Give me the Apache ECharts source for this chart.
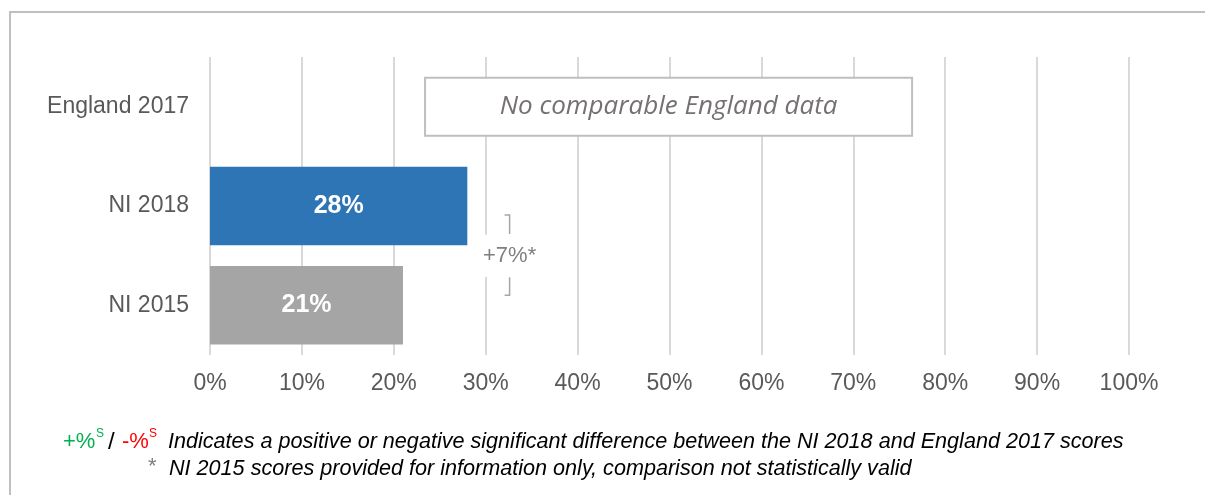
<!DOCTYPE html>
<html><head><meta charset="utf-8">
<script src="https://cdn.jsdelivr.net/npm/echarts@6/dist/echarts.min.js"></script>
<style>html,body{margin:0;padding:0;background:#fff}#c{width:1205px;height:495px}</style>
</head><body><div id="c"></div>
<script>
const categories = ['England 2017', 'NI 2018', 'NI 2015'];
const values = [null, 28, 21];
const barColors = ['#2e75b6', '#2e75b6', '#a5a5a5'];
const xMin = 0, xMax = 100, xStep = 10;
const changeLabel = '+7%*';
const changeX = 32.6;
const noDataText = 'No comparable England data';
const noDataRange = [23.4, 76.4];
const footLine1 = 'Indicates a positive or negative significant difference between the NI 2018 and England 2017 scores';
const footLine2 = 'NI 2015 scores provided for information only, comparison not statistically valid';

const chart = echarts.init(document.getElementById('c'), null, {renderer: 'canvas'});
const font = 'Liberation Sans, Arial, sans-serif';
chart.setOption({
  animation: false,
  grid: {left: 210, right: 76, top: 57, height: 298},
  xAxis: {
    type: 'value', min: xMin, max: xMax, interval: xStep,
    axisLabel: {formatter: '{value}%', color: '#595959', fontSize: 23, fontFamily: font, margin: 17},
    axisLine: {show: false}, axisTick: {show: false},
    splitLine: {lineStyle: {color: '#d9d9d9', width: 2}}
  },
  yAxis: {
    type: 'category', data: categories, inverse: true,
    axisLabel: {color: '#595959', fontSize: 23, fontFamily: font, margin: 21},
    axisLine: {show: false}, axisTick: {show: false}
  },
  series: [{
    type: 'bar', barWidth: '79%',
    data: values.map((v, i) => ({value: v, itemStyle: {color: barColors[i]}})),
    label: {show: true, position: 'inside', color: '#fff', fontWeight: 'bold', fontSize: 25, fontFamily: font,
      formatter: p => p.value == null ? '' : p.value + '%'}
  }]
});

const px = (x, c) => chart.convertToPixel({gridIndex: 0}, [x, c]);
const b0 = px(noDataRange[0], categories[0]);
const b1 = px(noDataRange[1], categories[0]);
const t = px(changeX, categories[1]);
const u = px(changeX, categories[2]);
const midY = (t[1] + u[1]) / 2;
const lc = '#a6a6a6';
const it = {fill: '#000', fontSize: 21.6, fontStyle: 'italic', fontFamily: font, verticalAlign: 'middle'};
chart.setOption({
  graphic: [
    {type: 'rect', shape: {x: 10, y: 12, width: 1300, height: 600}, style: {fill: 'none', stroke: '#bfbfbf', lineWidth: 2}, silent: true},
    {type: 'rect', shape: {x: b0[0], y: b0[1] - 29, width: b1[0] - b0[0], height: 58}, style: {fill: '#fff', stroke: '#bfbfbf', lineWidth: 2}, z: 10},
    {type: 'text', x: (b0[0] + b1[0]) / 2, y: b0[1], style: {text: noDataText, fill: '#767171', fontSize: 26, fontStyle: 'italic', fontFamily: 'Open Sans', align: 'center', verticalAlign: 'middle'}, z: 11},
    {type: 'rect', shape: {x: t[0] - 32, y: midY - 21, width: 64, height: 42}, style: {fill: '#fff'}, z: 10},
    {type: 'polyline', shape: {points: [[t[0] - 5, t[1] + 9], [t[0], t[1] + 9], [t[0], t[1] + 28]]}, style: {stroke: lc, lineWidth: 1.5, fill: 'none'}, z: 11},
    {type: 'polyline', shape: {points: [[u[0], u[1] - 28], [u[0], u[1] - 10], [u[0] - 5, u[1] - 10]]}, style: {stroke: lc, lineWidth: 1.5, fill: 'none'}, z: 11},
    {type: 'text', x: t[0], y: midY, style: {text: changeLabel, fill: '#7f7f7f', fontSize: 22, fontFamily: font, align: 'center', verticalAlign: 'middle'}, z: 12},
    {type: 'text', x: 63, y: 442, style: {text: '+%', fill: '#00b050', fontSize: 22, fontFamily: font, verticalAlign: 'middle'}},
    {type: 'text', x: 96, y: 434, style: {text: 'S', fill: '#00b050', fontSize: 12, fontFamily: font, verticalAlign: 'middle'}},
    {type: 'text', x: 108, y: 442, style: {text: '/', fill: '#000', fontSize: 24, fontFamily: font, verticalAlign: 'middle'}},
    {type: 'text', x: 122, y: 442, style: {text: '-%', fill: '#ff0000', fontSize: 22, fontFamily: font, verticalAlign: 'middle'}},
    {type: 'text', x: 149, y: 434, style: {text: 'S', fill: '#ff0000', fontSize: 12, fontFamily: font, verticalAlign: 'middle'}},
    {type: 'text', x: 168, y: 442, style: Object.assign({text: footLine1}, it)},
    {type: 'text', x: 148, y: 467, style: {text: '*', fill: '#7f7f7f', fontSize: 22, fontFamily: font, verticalAlign: 'middle'}},
    {type: 'text', x: 169, y: 469, style: Object.assign({text: footLine2}, it)}
  ]
});
</script></body></html>
